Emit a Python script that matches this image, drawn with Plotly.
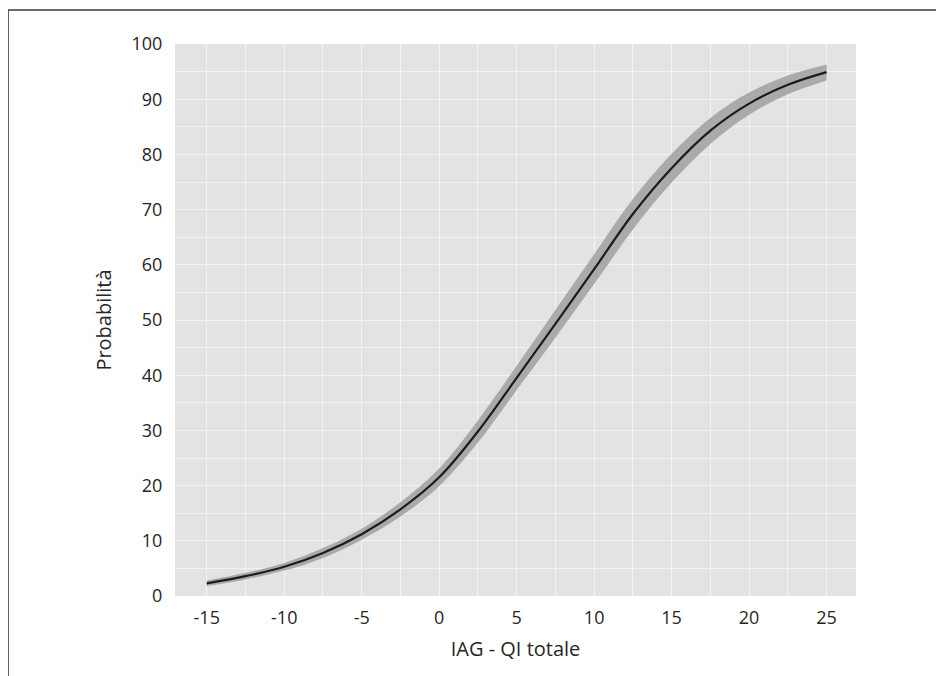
import plotly.graph_objects as go

# ---- data ----
x_vals = [-15, -12.5, -10, -7.5, -5, -2.5, 0, 2.5, 5, 7.5, 10, 12.5, 15, 17.5, 20, 22.5, 25]
prob = [2.3, 3.6, 5.3, 7.8, 11.2, 15.7, 21.5, 29.8, 39.5, 49.3, 59.2, 69.2, 77.5, 84.3, 89.2, 92.6, 94.9]
ci_low = [1.8, 3.0, 4.6, 6.9, 10.2, 14.4, 19.9, 27.8, 37.3, 46.8, 56.5, 66.4, 74.9, 81.9, 87.2, 90.9, 93.4]
ci_high = [2.8, 4.2, 6.0, 8.7, 12.2, 17.0, 23.1, 31.8, 41.7, 51.8, 61.9, 71.9, 80.1, 86.6, 91.2, 94.3, 96.3]

x_ticks = [-15, -10, -5, 0, 5, 10, 15, 20, 25]
y_ticks = [0, 10, 20, 30, 40, 50, 60, 70, 80, 90, 100]
x_title = "IAG - QI totale"
y_title = "Probabilità"

W, H = 944, 676
OFF = 8  # page body margin offset
L, R, T, B = 175 - OFF, 856 - OFF, 44 - OFF, 596 - OFF  # plot area pixels in figure coords

fig = go.Figure()
fig.add_trace(go.Scatter(x=x_vals, y=ci_high, mode="lines", line=dict(width=0, shape="spline"),
                         hoverinfo="skip", showlegend=False))
fig.add_trace(go.Scatter(x=x_vals, y=ci_low, mode="lines", line=dict(width=0, shape="spline"),
                         fill="tonexty", fillcolor="#aaaaaa", hoverinfo="skip", showlegend=False))
fig.add_trace(go.Scatter(x=x_vals, y=prob, mode="lines", line=dict(color="#1c1c1c", width=2.2, shape="spline"),
                         showlegend=False))

def px(xp):
    return (xp - OFF - L) / (R - L)

def py(yp):
    return (B - (yp - OFF)) / (B - T)

border = dict(color="#3a3a3a", width=1.6)
fig.add_shape(type="line", xref="paper", yref="paper", x0=px(8), x1=px(W + 20), y0=py(10), y1=py(10), line=border)
fig.add_shape(type="line", xref="paper", yref="paper", x0=px(8), x1=px(8), y0=py(10), y1=py(H + 20), line=border)

font_family = "Open Sans, Noto Sans, sans-serif"
fig.update_layout(
    width=W, height=H,
    margin=dict(l=L, r=W - R, t=T, b=H - B, autoexpand=False),
    paper_bgcolor="white", plot_bgcolor="#e3e3e5",
    font=dict(family=font_family, size=18, color="#262626"),
    xaxis=dict(range=[-17.05, 26.9], tickvals=x_ticks, ticktext=[str(v) for v in x_ticks],
               showgrid=True, gridcolor="#f3f3f3", gridwidth=1, zeroline=False, showline=False,
               ticks="outside", ticklen=5, tickcolor="rgba(0,0,0,0)",
               minor=dict(dtick=2.5, tick0=0, showgrid=True, gridcolor="#f3f3f3", gridwidth=1),
               title=dict(text=x_title, standoff=14, font=dict(size=20)), automargin=False),
    yaxis=dict(range=[0, 100], tickvals=y_ticks, ticktext=[str(v) for v in y_ticks],
               showgrid=True, gridcolor="#f3f3f3", gridwidth=1, zeroline=False, showline=False,
               ticks="outside", ticklen=8, tickcolor="rgba(0,0,0,0)",
               minor=dict(dtick=5, tick0=0, showgrid=True, gridcolor="#f3f3f3", gridwidth=1),
               title=dict(text=y_title, standoff=14, font=dict(size=20)), automargin=False),
)

fig.write_html("out.html")
